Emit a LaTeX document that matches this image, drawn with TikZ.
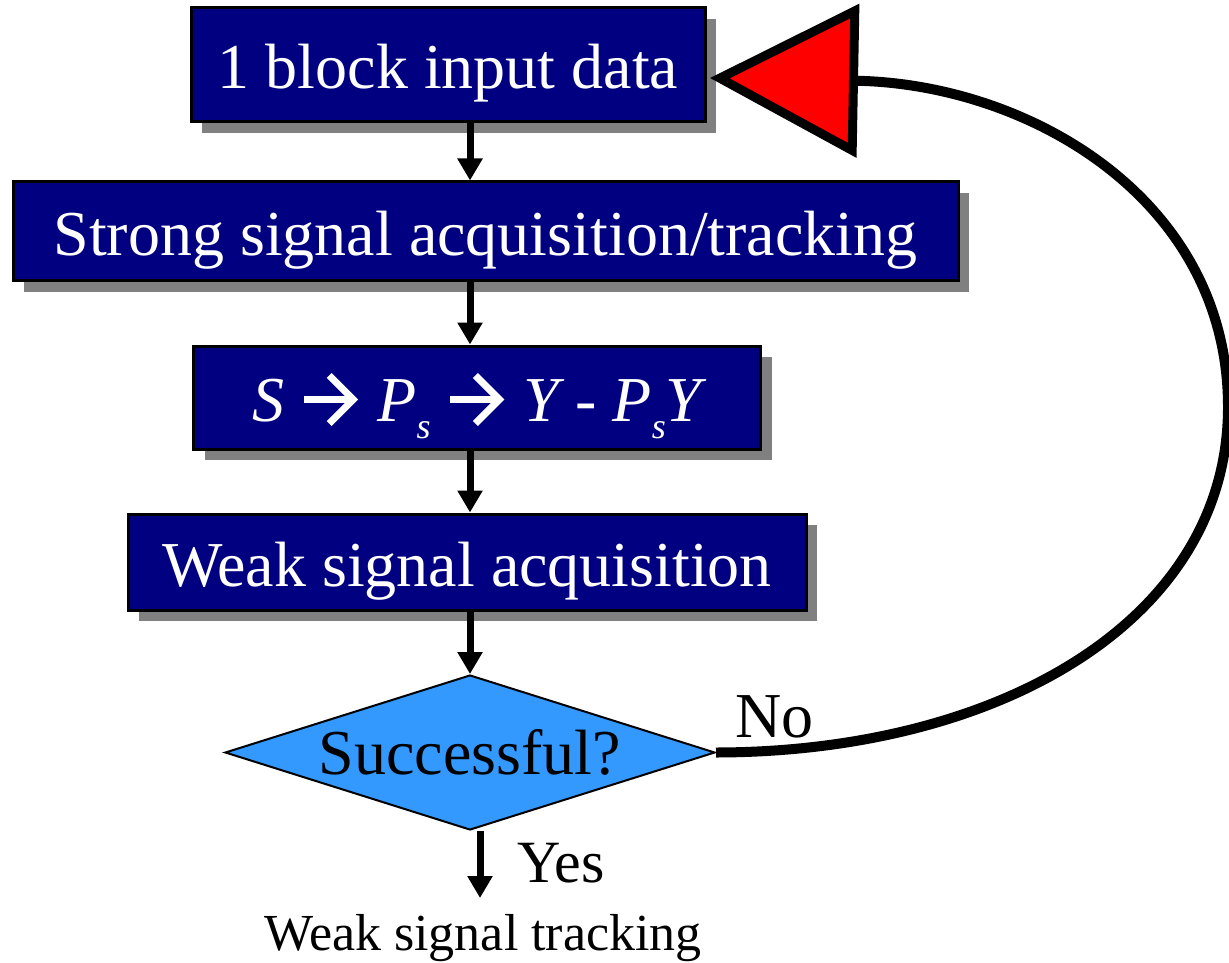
\documentclass[tikz,border=0pt]{standalone}
\usepackage{fontspec}
\setmainfont{Liberation Serif}
\usepackage{tikz}
\usetikzlibrary{arrows.meta,positioning,shapes.geometric,shadows}
\definecolor{boxnavy}{RGB}{0,0,128}
\definecolor{decblue}{RGB}{51,153,255}
\definecolor{shadegray}{RGB}{128,128,128}
\newcommand{\bigfont}{\fontsize{32}{38}\selectfont}
\newcommand{\subs}{\raisebox{-8.5pt}{\fontsize{18}{18}\selectfont s}}
\newcommand{\thickarr}{\tikz[baseline=-11pt]\draw[white, line width=3.5pt,
  -{Straight Barb[length=12pt, width=24pt, line width=3.5pt]}] (0pt,0pt) -- (27pt,0pt);}
\tikzset{
  stepbox/.style={draw, line width=1.5pt, fill=boxnavy, text=white, inner sep=0pt, font=\bigfont,
    text height=24pt, text depth=0pt,
    drop shadow={shadow xshift=5.5pt, shadow yshift=-5.5pt, fill=shadegray, opacity=1}},
  decision/.style={draw, diamond, line width=1pt, fill=decblue, inner sep=0pt, aspect=3.16,
    minimum width=245pt, minimum height=77.5pt, font=\bigfont},
  lbl/.style={inner sep=0pt, font=\bigfont},
  flow/.style={-{Triangle[length=11pt, width=12pt]}, line width=3.5pt},
  loopflow/.style={-{Triangle[length=74pt, width=76pt, line width=4.5pt, fill=red]}, line width=5pt}
}

\begin{document}
\begin{tikzpicture}[x=0.5pt, y=-0.5pt]
  \useasboundingbox (0,0) rectangle (1229,962);

  % main column
  \node[stepbox, minimum width=257pt, minimum height=57pt] (b1) at (448,65) {1 block input data};
  \node[stepbox, minimum width=472.5pt, minimum height=49.5pt] (b2) at (485.5,231.5) {Strong signal acquisition/tracking};
  \node[stepbox, minimum width=283.5pt, minimum height=51.5pt] (b3) at (477,397.5)
    {\itshape S \thickarr\ P\subs\ \thickarr\ Y {\upshape -} P\subs Y};
  \node[stepbox, minimum width=339pt, minimum height=48pt] (b4) at (467,562) {Weak signal acquisition};
  \node[decision] (dec) at (470,752.5) {\makebox[0pt]{Successful?}};

  \draw[flow] (b1.south -| dec.north) -- (b2.north -| dec.north);
  \draw[flow] (b2.south -| dec.north) -- (b3.north -| dec.north);
  \draw[flow] (b3.south -| dec.north) -- (b4.north -| dec.north);
  \draw[flow] (b4.south -| dec.north) -- (dec.north);

  % exits
  \coordinate (yesend) at (480,898);
  \draw[flow] (dec.south -| yesend) -- (yesend);
  \node[lbl, anchor=base west, font=\fontsize{30}{36}\selectfont] (yes) at (517,882) {Yes};
  \node[lbl, anchor=base, font=\fontsize{26}{31}\selectfont] (track) at (483,950) {Weak signal tracking};
  \node[lbl, anchor=base west] (no) at (735,737) {No};

  % loop back
  \coordinate (tip) at (710,78);
  \draw[loopflow] (dec.east) .. controls (1000,752) and (1228,620) .. (1228,407)
    .. controls (1228,200) and (1030,84) .. (tip);
\end{tikzpicture}
\end{document}
